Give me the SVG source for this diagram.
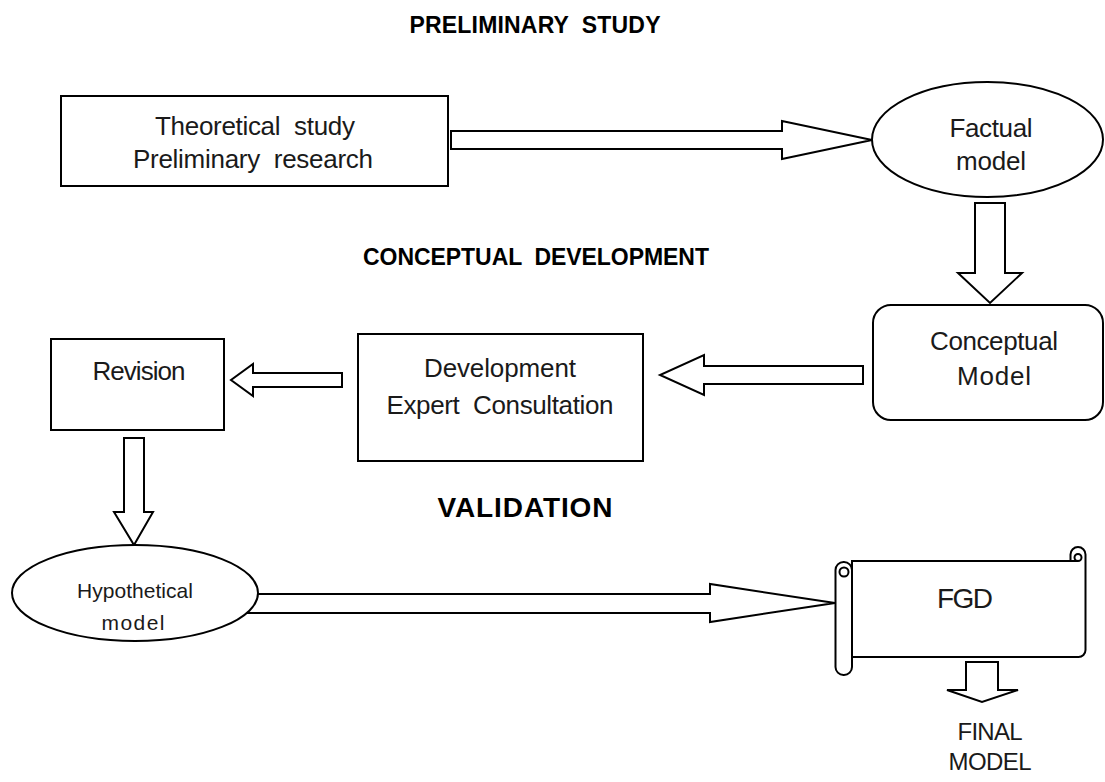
<svg xmlns="http://www.w3.org/2000/svg" width="1105" height="782" viewBox="0 0 1105 782">
<style>
.shape{fill:#fff;stroke:#000;stroke-width:2;stroke-linejoin:miter}
.arrow{fill:#fff;stroke:#000;stroke-width:2;stroke-linejoin:miter}
.t{font-family:"Liberation Sans",Arial,sans-serif;font-size:26px;fill:#1a1a1a;text-anchor:middle;white-space:pre}
.h{font-family:"Liberation Sans",Arial,sans-serif;font-size:23px;font-weight:bold;fill:#000;text-anchor:middle;white-space:pre}
</style>
<rect width="1105" height="782" fill="#fff"/>
<g id="headings">
<text class="h" x="535" y="33" textLength="251" xml:space="preserve">PRELIMINARY  STUDY</text>
<text class="h" x="536" y="265" textLength="346" xml:space="preserve">CONCEPTUAL  DEVELOPMENT</text>
<text class="h" x="525" y="517" style="font-size:28px" textLength="175">VALIDATION</text>
</g>
<g id="connectors">
<polygon class="arrow" points="451,131 782,131 782,121 872,140 782,159 782,149 451,149"/>
<polygon class="arrow" points="975,203 1005,203 1005,273 1022,273 990,303 958,273 975,273"/>
<polygon class="arrow" points="863,366 863,384 704,384 704,395 660,375 704,355 704,366"/>
<polygon class="arrow" points="342,373 342,387 253,387 253,396 231,380 253,364 253,373"/>
<polygon class="arrow" points="124,438 144,438 144,512 153,512 134,545 114,512 124,512"/>
<polygon class="arrow" points="240,594 710,594 710,584 835,603 710,622 710,613 240,613"/>
<polygon class="arrow" points="966,662 998,662 998,690 1018,690 982,702 947,690 966,690"/>
</g>
<g id="node-theoretical">
<rect class="shape" x="61" y="96" width="387" height="90"/>
<text class="t" x="255" y="135" textLength="200" xml:space="preserve">Theoretical  study</text>
<text class="t" x="253" y="168" textLength="240" xml:space="preserve">Preliminary  research</text>
</g>
<g id="node-factual">
<ellipse class="shape" cx="987.5" cy="139.5" rx="115.5" ry="57.5"/>
<text class="t" x="991" y="137" textLength="83">Factual</text>
<text class="t" x="991" y="170" textLength="70">model</text>
</g>
<g id="node-conceptual">
<rect class="shape" x="873" y="305" width="230" height="115" rx="18"/>
<text class="t" x="994" y="350" textLength="128">Conceptual</text>
<text class="t" x="994" y="385" textLength="74">Model</text>
</g>
<g id="node-development">
<rect class="shape" x="358" y="334" width="285" height="127"/>
<text class="t" x="500" y="377" textLength="152">Development</text>
<text class="t" x="500" y="414" textLength="227" xml:space="preserve">Expert  Consultation</text>
</g>
<g id="node-revision">
<rect class="shape" x="51" y="339" width="173" height="91"/>
<text class="t" x="139" y="380" textLength="93">Revision</text>
</g>
<g id="node-hypothetical">
<ellipse class="shape" cx="135" cy="593" rx="123" ry="48"/>
<text class="t" x="135" y="598" style="font-size:21px" textLength="116">Hypothetical</text>
<text class="t" x="133" y="630" style="font-size:21px" textLength="63">model</text>
</g>
<g id="node-fgd">
<path class="shape" d="M852,561 L1070.5,561 L1070.5,554.5 A7.5,7.5 0 0 1 1085.5,554.5 L1085.5,650 A7,7 0 0 1 1078.5,657 L852,657 Z"/>
<circle cx="1078" cy="557.5" r="3.5" fill="#fff" stroke="#000" stroke-width="2"/>
<line x1="1070.5" y1="561" x2="1078" y2="561" stroke="#000" stroke-width="2"/>
<rect class="shape" x="835.5" y="562" width="16.5" height="113" rx="8"/>
<circle cx="844" cy="572" r="4.5" fill="#fff" stroke="#000" stroke-width="2"/>
<text class="t" x="965" y="608" style="font-size:28px" textLength="56">FGD</text>
</g>
<g id="label-final">
<text class="t" x="990" y="740" style="font-size:24px" textLength="65">FINAL</text>
<text class="t" x="990" y="770" style="font-size:24px" textLength="83">MODEL</text>
</g>
</svg>
